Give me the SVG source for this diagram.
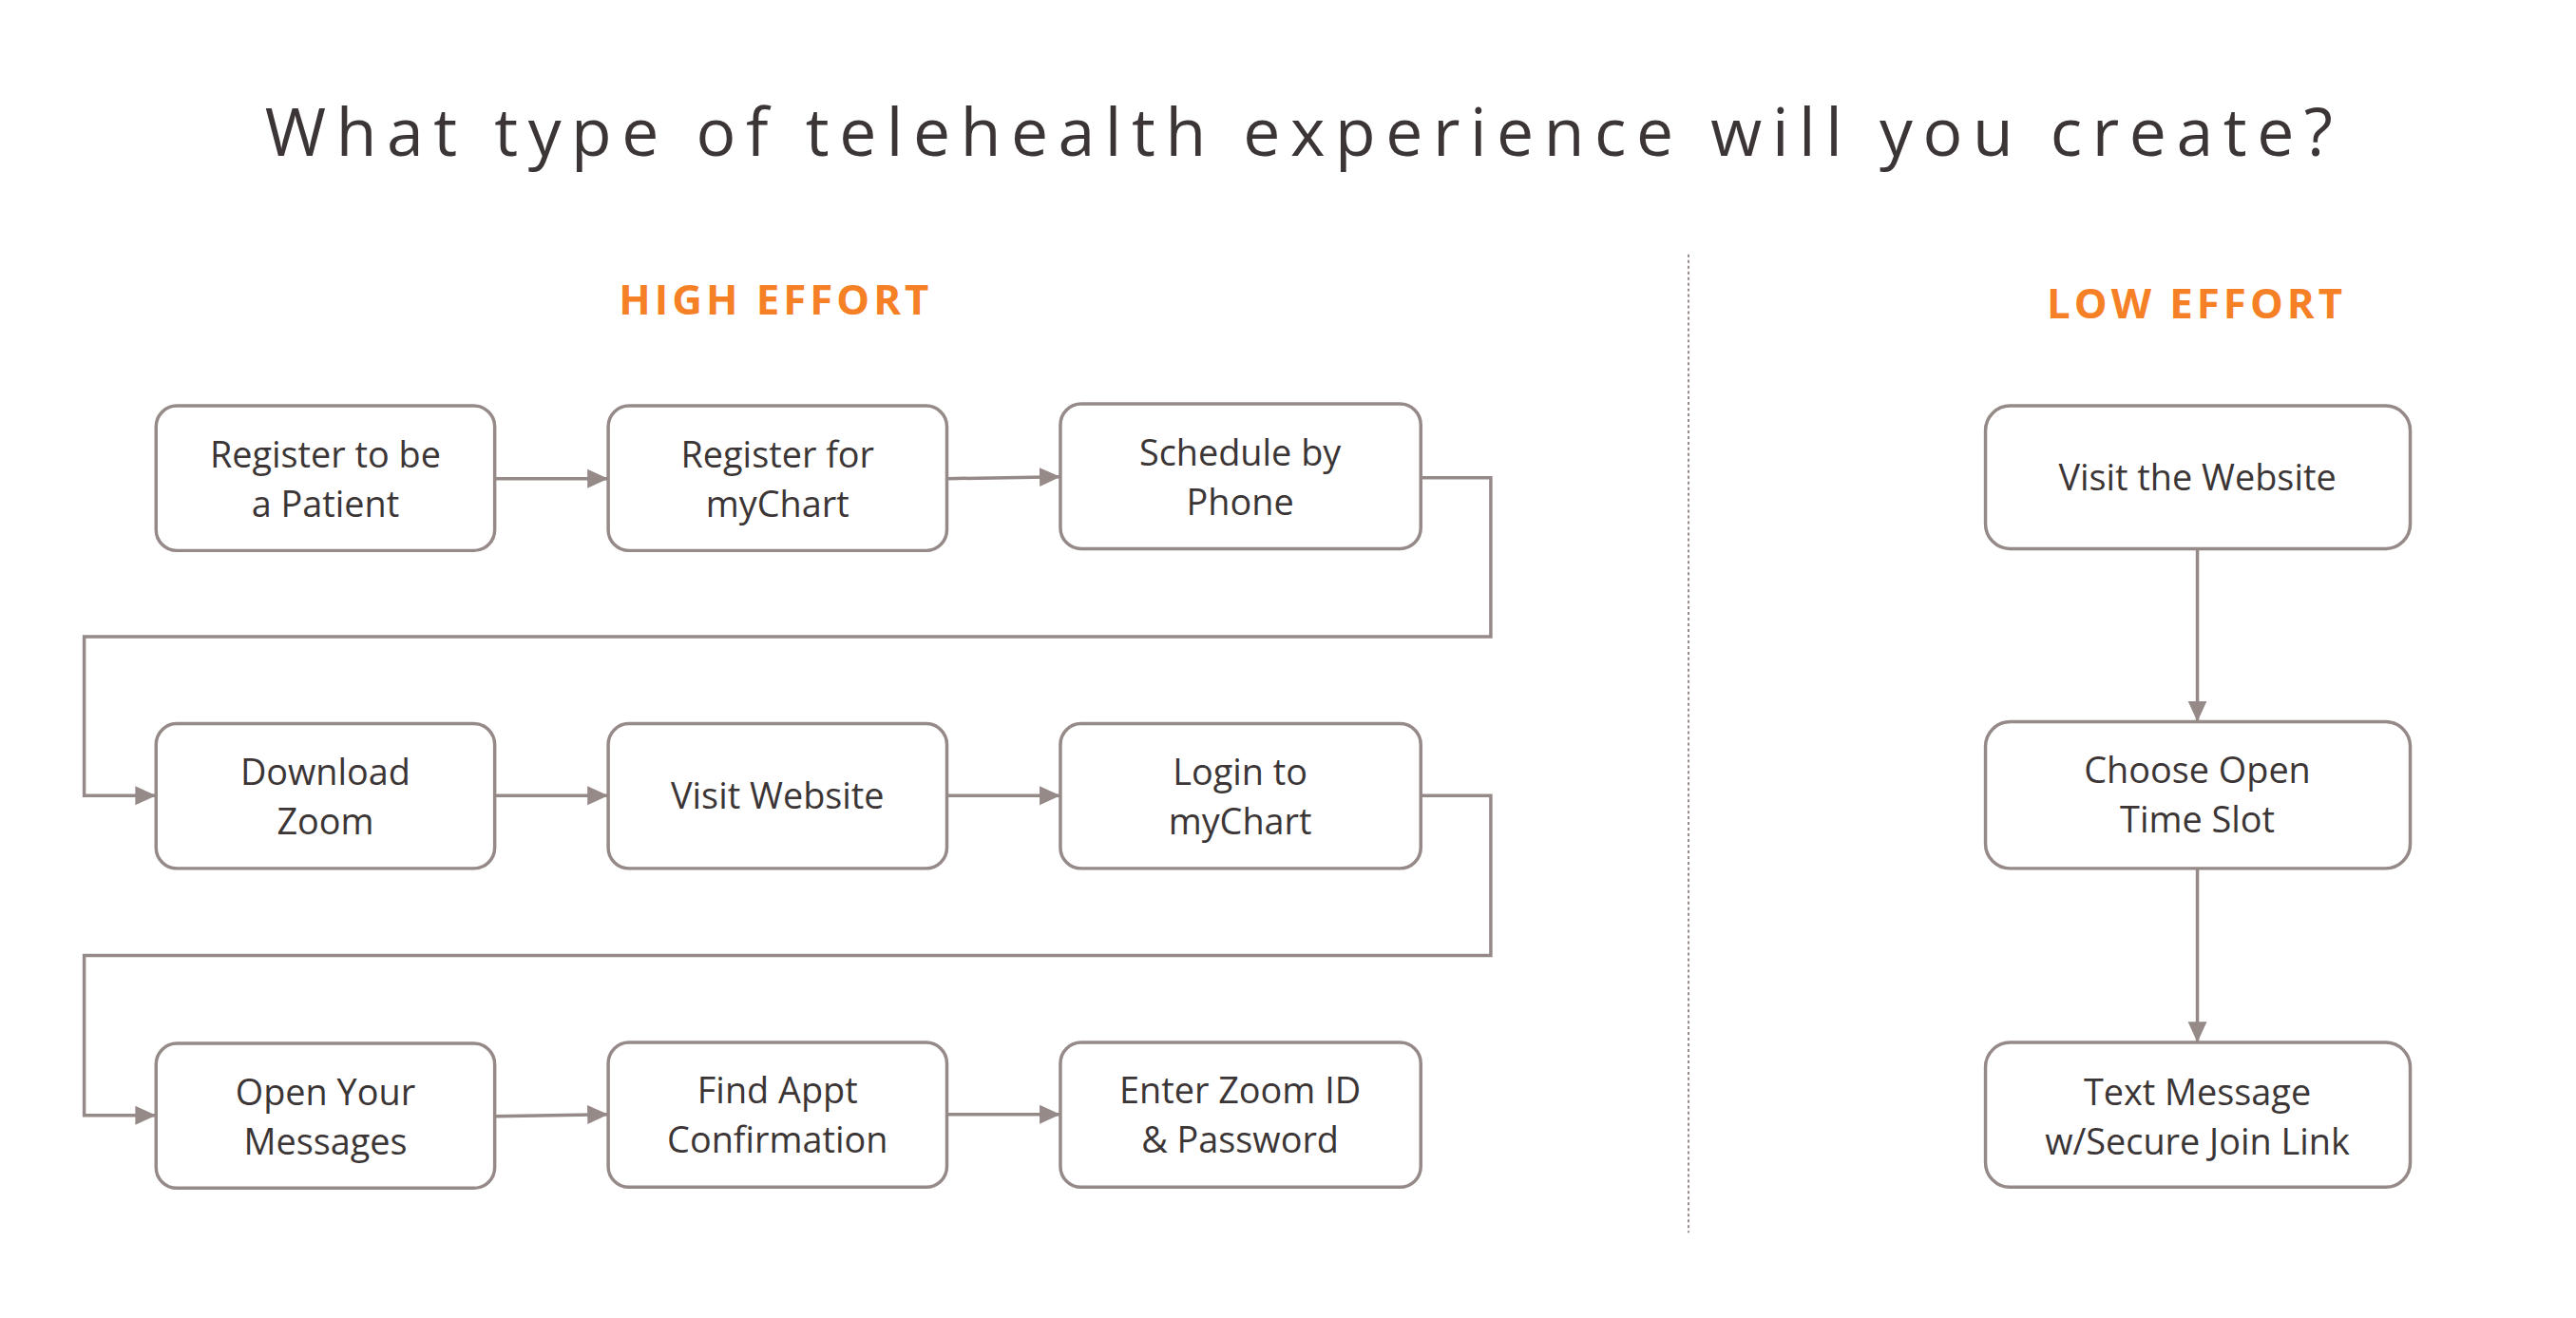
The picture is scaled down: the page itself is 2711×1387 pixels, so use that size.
<svg xmlns="http://www.w3.org/2000/svg" width="2711" height="1387" viewBox="0 0 2711 1387">
<style>
.n{fill:#fff;stroke:#958a88;stroke-width:3.5}
.t{font-family:"Open Sans","Liberation Sans",sans-serif;font-size:38px;fill:#3b3536;text-anchor:middle}
.h{font-family:"Open Sans","Liberation Sans",sans-serif;font-size:44px;font-weight:bold;fill:#f58025;text-anchor:middle;letter-spacing:4px}
.c{fill:none;stroke:#958a88;stroke-width:3.5}
</style>
<defs>
<marker id="b" markerWidth="24" markerHeight="24" refX="22" refY="12" orient="auto" markerUnits="userSpaceOnUse"><path d="M0,2L22,12L0,22z" fill="#958a88"/></marker></defs>
<rect width="2711" height="1387" fill="#fff"/>
<g transform="scale(0.9955)">
<text x="1373" y="165" font-family="'Open Sans','Liberation Sans',sans-serif" font-size="70" fill="#3b3536" text-anchor="middle" textLength="2186" lengthAdjust="spacing">What type of telehealth experience will you create?</text>
<text class="h" x="820" y="332">HIGH EFFORT</text>
<text class="h" x="2322" y="337">LOW EFFORT</text>
<line x1="1785" y1="269" x2="1785" y2="1303" stroke="#958a88" stroke-width="2" stroke-dasharray="3,3"/>
<g id="connectors">
<path class="c" marker-end="url(#b)" d="M523,506H643"/>
<path class="c" marker-end="url(#b)" d="M1001,506L1121,504"/>
<path class="c" marker-end="url(#b)" d="M1502,505H1576V673H89V841H165"/>
<path class="c" marker-end="url(#b)" d="M523,841H643"/>
<path class="c" marker-end="url(#b)" d="M1001,841H1121"/>
<path class="c" marker-end="url(#b)" d="M1502,841H1576V1010H89V1179H165"/>
<path class="c" marker-end="url(#b)" d="M523,1180L643,1178"/>
<path class="c" marker-end="url(#b)" d="M1001,1178H1121"/>
<path class="c" marker-end="url(#b)" d="M2323,580V763"/>
<path class="c" marker-end="url(#b)" d="M2323,918V1102"/>
</g>
<g id="n1"><rect class="n" x="165" y="429" width="358" height="153" rx="22"/><text class="t" x="344" y="494">Register to be</text><text class="t" x="344" y="546">a Patient</text></g>
<g id="n2"><rect class="n" x="643" y="429" width="358" height="153" rx="22"/><text class="t" x="822" y="494">Register for</text><text class="t" x="822" y="546">myChart</text></g>
<g id="n3"><rect class="n" x="1121" y="427" width="381" height="153" rx="22"/><text class="t" x="1311" y="492">Schedule by</text><text class="t" x="1311" y="544">Phone</text></g>
<g id="n4"><rect class="n" x="165" y="765" width="358" height="153" rx="22"/><text class="t" x="344" y="830">Download</text><text class="t" x="344" y="882">Zoom</text></g>
<g id="n5"><rect class="n" x="643" y="765" width="358" height="153" rx="22"/><text class="t" x="822" y="855">Visit Website</text></g>
<g id="n6"><rect class="n" x="1121" y="765" width="381" height="153" rx="22"/><text class="t" x="1311" y="830">Login to</text><text class="t" x="1311" y="882">myChart</text></g>
<g id="n7"><rect class="n" x="165" y="1103" width="358" height="153" rx="22"/><text class="t" x="344" y="1168">Open Your</text><text class="t" x="344" y="1220">Messages</text></g>
<g id="n8"><rect class="n" x="643" y="1102" width="358" height="153" rx="22"/><text class="t" x="822" y="1166">Find Appt</text><text class="t" x="822" y="1218">Confirmation</text></g>
<g id="n9"><rect class="n" x="1121" y="1102" width="381" height="153" rx="22"/><text class="t" x="1311" y="1166">Enter Zoom ID</text><text class="t" x="1311" y="1218">&amp; Password</text></g>
<g id="r1"><rect class="n" x="2099" y="429" width="449" height="151" rx="26"/><text class="t" x="2323" y="518">Visit the Website</text></g>
<g id="r2"><rect class="n" x="2099" y="763" width="449" height="155" rx="26"/><text class="t" x="2323" y="828">Choose Open</text><text class="t" x="2323" y="880">Time Slot</text></g>
<g id="r3"><rect class="n" x="2099" y="1102" width="449" height="153" rx="26"/><text class="t" x="2323" y="1168">Text Message</text><text class="t" x="2323" y="1220">w/Secure Join Link</text></g>
</g>
</svg>
